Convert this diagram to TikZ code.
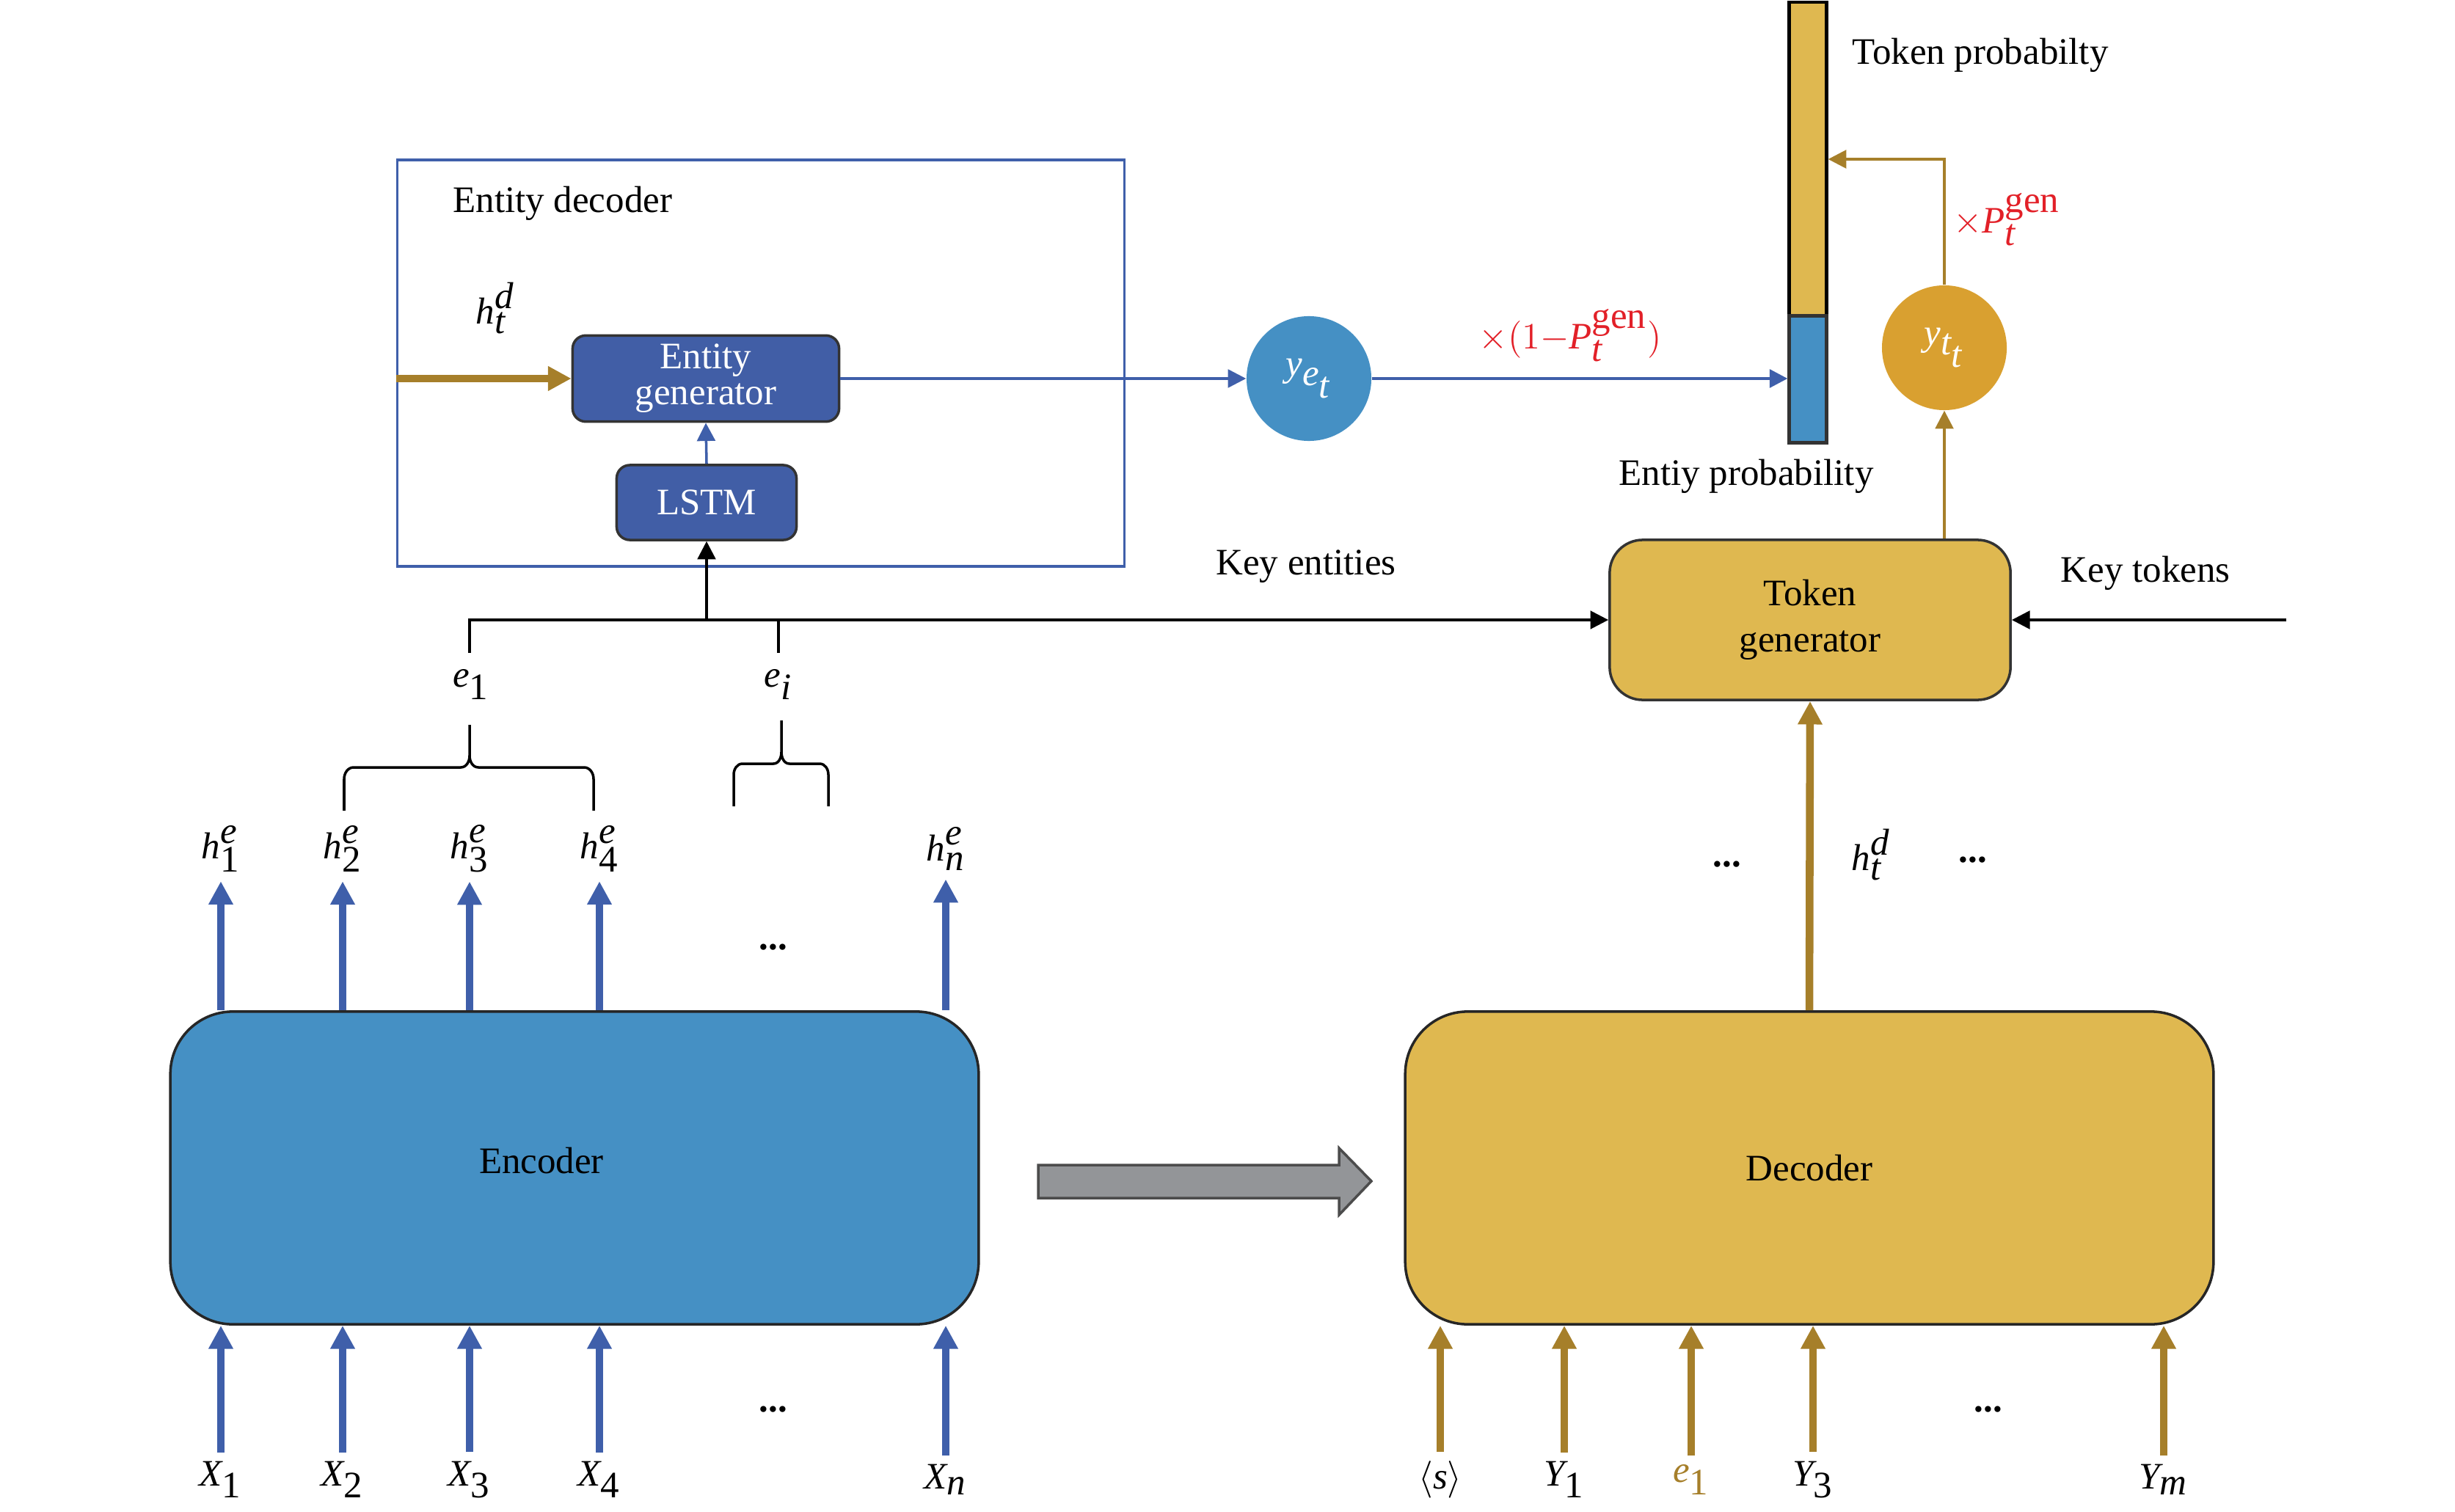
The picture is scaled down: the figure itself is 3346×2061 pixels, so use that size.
\documentclass[tikz,border=0pt]{standalone}
\usepackage{fontspec}
\setmainfont{Liberation Serif}
\usetikzlibrary{arrows.meta}
\definecolor{encblue}{RGB}{69,144,196}
\definecolor{genblue}{RGB}{65,94,166}
\definecolor{lineblue}{RGB}{63,95,170}
\definecolor{boxgold}{RGB}{223,184,80}
\definecolor{arrgold}{RGB}{166,127,42}
\definecolor{dotgold}{RGB}{217,160,48}
\definecolor{pred}{RGB}{226,32,40}
\definecolor{flowgray}{RGB}{147,149,152}

\begin{document}
\begin{tikzpicture}[x=0.01cm,y=-0.01cm,
  font=\fontsize{14.5}{17}\selectfont,
  bigbox/.style={draw=black!85,line width=1pt,rounded corners=0.85cm,minimum width=11.01cm,minimum height=4.26cm},
  genbox/.style={draw=black!80,line width=1pt,fill=genblue,text=white,rounded corners=0.18cm,align=center},
  bar/.style={line width=1.2pt,minimum width=0.51cm,inner sep=0pt},
  dot/.style={circle,minimum size=1.7cm,inner sep=0pt,text=white},
  bluearr/.style={draw=lineblue,line width=2.8pt,-{Triangle[length=9pt,width=9pt]}},
  goldarr/.style={draw=arrgold,line width=2.8pt,-{Triangle[length=9pt,width=9pt]}},
  thinarr/.style={line width=1pt,-{Triangle[length=7pt,width=7pt]}}]
  \useasboundingbox (0,0) rectangle (3346,2061);

  % Encoder

  \node[bigbox,fill=encblue] (enc) at (783,1592) {};
  \node (enctext) at (738,1582) {Encoder};

  \foreach \xx/\idx [count=\i] in {301/\textrm{1},467/\textrm{2},640/\textrm{3},817/\textrm{4},1289/\textit{n}}{
    \node (hx\i) at (\xx,1157) {$\textit{h}^{\textit{e}}_{\idx}$};
    \node (xx\i) at (\xx,2017) {$\textit{X}_{\idx}$};
    \draw[bluearr] (enc.north -| hx\i) -- (hx\i.south);
    \draw[bluearr] (xx\i.north) -- (xx\i.north |- enc.south);
  }
  \node (hdots) at (1054,1291) {\textbf{...}};
  \node (xdots) at (1054,1921) {\textbf{...}};

  \draw[draw=black!70,fill=flowgray,line width=1pt] (1415,1588) -- (1825,1588) -- (1825,1565) -- (1869,1610) -- (1825,1656) -- (1825,1633) -- (1415,1633) -- cycle;

  % Key entities

  \draw[line width=1pt] (469,1105) -- (469,1062) to[out=90,in=180] (482,1046) -- (628,1046) to[out=0,in=-90] (640,1030) -- (640,988);
  \draw[line width=1pt] (640,1030) to[out=-90,in=180] (652,1046) -- (796,1046) to[out=0,in=90] (809,1062) -- (809,1105);
  \draw[line width=1pt] (1000,1099) -- (1000,1056) to[out=90,in=180] (1012,1041) -- (1054,1041) to[out=0,in=-90] (1065,1025) -- (1065,982);
  \draw[line width=1pt] (1065,1025) to[out=-90,in=180] (1076,1041) -- (1117,1041) to[out=0,in=90] (1129,1056) -- (1129,1099);

  \node (e1) at (642,933) {$\textit{e}_{\textrm{1}}$};
  \node (ei) at (1061,933) {$\textit{e}_{\textit{i}}$};
  \coordinate (e1tick) at (640,890);
  \coordinate (eitick) at (1061,890);

  % Entity decoder

  \node[draw=lineblue,line width=1pt,minimum width=9.9cm,minimum height=5.54cm] (edbox) at (1037,495) {};
  \node[anchor=west] (edtitle) at (605,277) {Entity decoder};
  \node (hdin) at (675,420) {$\textit{h}^{\textit{d}}_{\textit{t}}$};

  \node[genbox,minimum width=3.63cm,minimum height=1.01cm,font=\fontsize{14.5}{14}\selectfont] (entgen) at (962,516) {Entity\\generator};
  \node[genbox,minimum width=2.45cm,minimum height=1.02cm] (lstm) at (963,685) {LSTM};

  \draw[goldarr] (edbox.west |- entgen) -- (entgen.west);
  \draw[thinarr,draw=lineblue] (lstm.north) -- (entgen.south);

  % Token generator

  \node[draw=black!80,line width=1pt,fill=boxgold,rounded corners=0.45cm,minimum width=5.46cm,minimum height=2.18cm,align=center,font=\fontsize{14.5}{18}\selectfont] (tokgen) at (2467,845) {Token\\generator};

  \draw[thinarr] (e1tick) |- (tokgen.west);
  \draw[thinarr] (lstm.south |- tokgen.west) -- (lstm.south);
  \draw[line width=1pt] (eitick) -- (eitick |- tokgen.west);

  \node (keyent) at (1780,772) {Key entities};
  \node (keytok) at (2924,781) {Key tokens};
  \coordinate (ktin) at (3116,845);
  \draw[thinarr] (ktin) -- (tokgen.east);

  % Probabilities

  \node[dot,fill=encblue] (ye) at (1784,516) {$\textit{y}_{\textit{e}_{\textit{t}}}$};
  \draw[thinarr,draw=lineblue] (entgen.east) -- (ye.west);

  \node[bar,draw=black,fill=boxgold,minimum height=4.28cm] (tokbar) at (2464,217) {};
  \node[bar,draw=black!80,fill=encblue,minimum height=1.73cm] (entbar) at (2464,517) {};

  \draw[thinarr,draw=lineblue,line width=1.3pt] (ye.east) -- (ye.east -| entbar.west);
  \node[text=pred] (mixe) at (2140,457) {$\times(1{-}\textit{P}^{\textrm{gen}}_{\textit{t}})$};

  \node[dot,fill=dotgold] (yt) at (2650,474) {$\textit{y}_{\textit{t}_{\textit{t}}}$};
  \draw[thinarr,draw=arrgold] (tokgen.north -| yt) -- (yt.south);
  \draw[thinarr,draw=arrgold] (yt.north) |- (tokbar.east);
  \node[text=pred] (mixt) at (2735,299) {$\times\textit{P}^{\textrm{gen}}_{\textit{t}}$};

  \node[anchor=west] (tokprob) at (2512,75) {Token probabilty};
  \node (entprob) at (2380,649) {Entiy probability};

  % Decoder

  \node[bigbox,fill=boxgold] (dec) at (2466,1592) {Decoder};
  \draw[goldarr,line width=3pt] (dec.north) -- (tokgen.south);

  \node (ddots1) at (2354,1178) {\textbf{...}};
  \node (hdout) at (2550,1165) {$\textit{h}^{\textit{d}}_{\textit{t}}$};
  \node (ddots2) at (2689,1172) {\textbf{...}};

  \foreach \xx/\lab [count=\i] in {1963/$\langle\textit{s}\rangle$,2132/$\textit{Y}_{\textrm{1}}$,2305/\textcolor{arrgold}{$\textit{e}_{\textrm{1}}$},2471/$\textit{Y}_{\textrm{3}}$,2949/$\textit{Y}_{\textit{m}}$}{
    \node (yy\i) at (\xx,2017) {\lab};
    \draw[goldarr] (yy\i.north) -- (yy\i.north |- dec.south);
  }
  \node (ydots) at (2710,1921) {\textbf{...}};

\end{tikzpicture}
\end{document}
